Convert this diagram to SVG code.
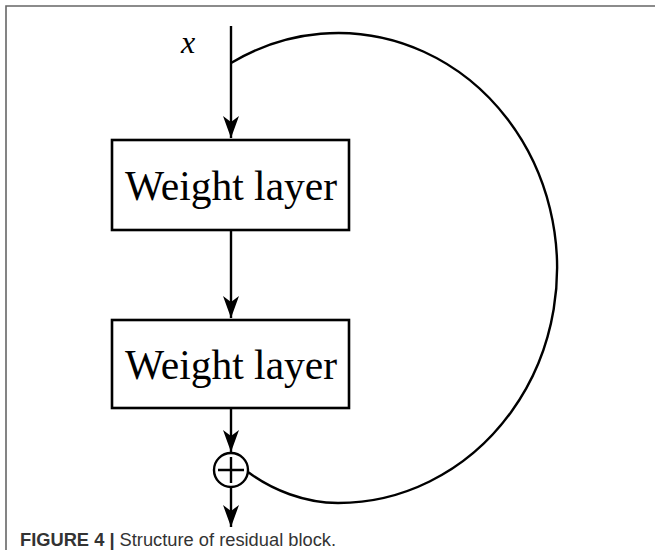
<svg xmlns="http://www.w3.org/2000/svg" width="655" height="550" viewBox="0 0 655 550">
<style>
.ln{stroke:#000;stroke-width:2.4;fill:none}
.box{stroke:#000;stroke-width:2.6;fill:#fff}
.lbl{font-family:"Liberation Serif","Times New Roman",serif;font-size:41.5px;fill:#000;text-anchor:middle}
.cap{font-family:"Liberation Sans",Arial,sans-serif;font-size:18.3px;fill:#333}
</style>
<defs>
<marker id="arr" viewBox="0 0 22 16" refX="22" refY="8" markerWidth="22" markerHeight="16" markerUnits="userSpaceOnUse" orient="auto">
<path d="M0,0 L22,8 L0,16 L6,8 z" fill="#000"/>
</marker>
</defs>
<rect width="655" height="550" fill="#fff"/>
<path d="M6,550 V6 H655" stroke="#666" stroke-width="1.6" fill="none"/>
<g id="connectors">
<path class="ln" d="M231,26 V138" marker-end="url(#arr)"/>
<path class="ln" d="M231,230 V318" marker-end="url(#arr)"/>
<path class="ln" d="M231,408 V452" marker-end="url(#arr)"/>
<path class="ln" d="M231,487 V527" marker-end="url(#arr)"/>
<path class="ln" d="M231,63 A219,235 0 1 1 338,503 C305,503 272,490 248,472"/>
</g>
<g id="input">
<text x="181" y="53" font-family="Liberation Serif,'Times New Roman',serif" font-style="italic" font-size="32">x</text>
</g>
<g id="weight1">
<rect class="box" x="112" y="140" width="237" height="90"/>
<text class="lbl" x="231" y="200">Weight layer</text>
</g>
<g id="weight2">
<rect class="box" x="112" y="320" width="237" height="88"/>
<text class="lbl" x="231" y="379">Weight layer</text>
</g>
<g id="add">
<circle cx="231" cy="470" r="17" class="ln" fill="#fff"/>
<path class="ln" d="M218,470 H244 M231,457 V483"/>
</g>
<g id="caption">
<text class="cap" x="20" y="546"><tspan font-weight="bold">FIGURE 4 | </tspan>Structure of residual block.</text>
</g>
</svg>
